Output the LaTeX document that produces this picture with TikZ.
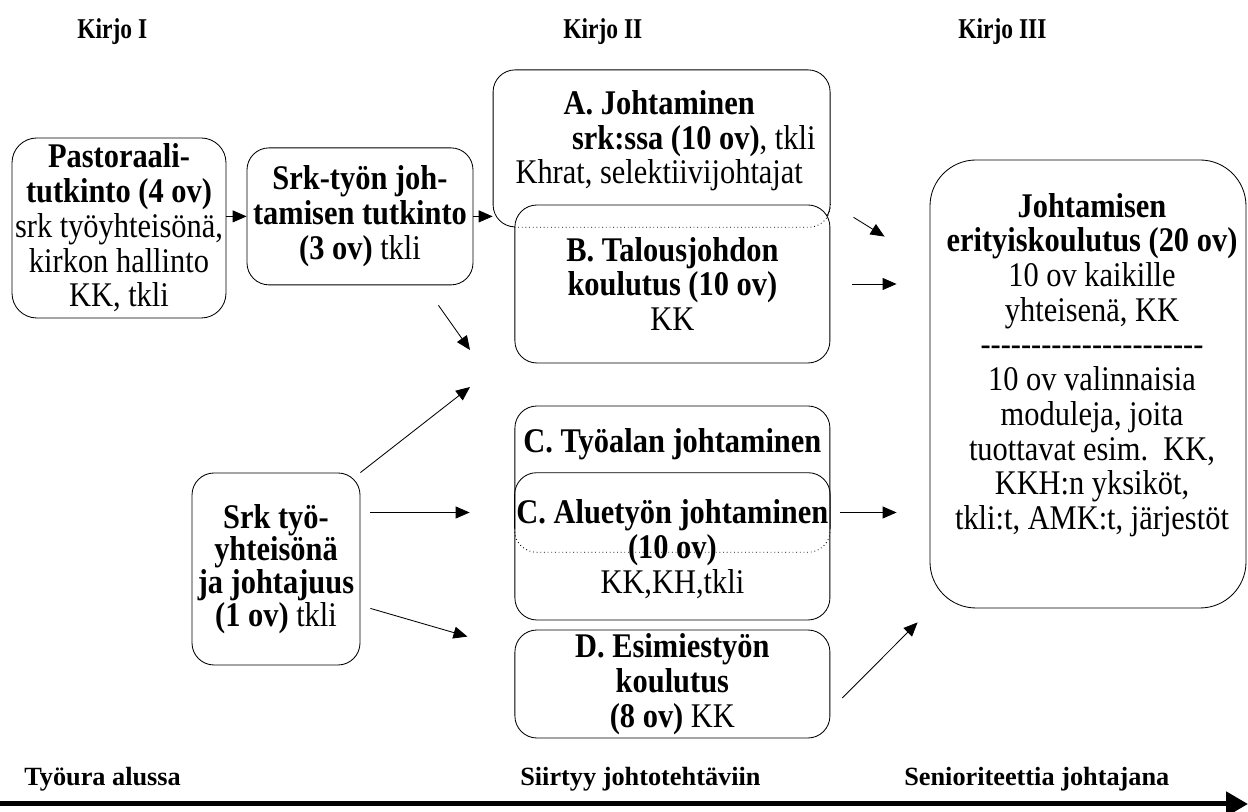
\documentclass[tikz,border=0pt]{standalone}
\usepackage{fontspec}
\setmainfont{Liberation Serif}
\newfontfamily\boxfont[FakeStretch=0.88]{Liberation Serif}
\newfontfamily\kirjofont[FakeStretch=0.82]{Liberation Serif}
\usepackage{tikz}
\usetikzlibrary{arrows.meta}
\tikzset{>={Triangle[length=0.35cm,width=0.3cm]}}
\tikzset{
	box/.style={draw, line width=0.6pt, rounded corners=0.55cm, inner sep=0pt, align=center, font=\boxfont\fontsize{24.6}{24.7}\selectfont},
	boxtext/.style={inner sep=0pt, align=center, font=\boxfont\fontsize{24.6}{24.7}\selectfont},
	kirjo/.style={anchor=base west, inner sep=0pt, font=\kirjofont\bfseries\fontsize{20.4}{24}\selectfont},
	vaihe/.style={anchor=base west, inner sep=0pt, font=\bfseries\fontsize{18.7}{22}\selectfont},
	nuoli/.style={->, line width=0.6pt},
}
\newcommand{\viiva}{\mbox{-}}% one hyphen, no ligature

\begin{document}
\begin{tikzpicture}
	\useasboundingbox (0,0) rectangle (31.2,20.3);
	% otsikot
	\node[kirjo] (kirjoI) at (1.925,19.325) {Kirjo I};
	\node[kirjo] (kirjoII) at (14.075,19.325) {Kirjo II};
	\node[kirjo] (kirjoIII) at (23.95,19.325) {Kirjo III};

	% kirjo I
	\node[box, rounded corners=0.62cm, minimum width=5.35cm, minimum height=4.5cm] (pastoraali) at (2.975,14.6)
		{\textbf{Pastoraali-}\\\textbf{tutkinto (4 ov)}\\srk työyhteisönä,\\kirkon hallinto\\KK, tkli};
	\node[box, minimum width=5.65cm, minimum height=3.425cm] (srktyo) at (9.0,14.89)
		{\textbf{Srk-työn joh-}\\\textbf{tamisen tutkinto}\\\textbf{(3 ov)} tkli};
	\node[box, font=\boxfont\fontsize{24.6}{22}\selectfont, minimum width=4.2cm, minimum height=4.8cm] (yhteiso) at (6.9,6.075)
		{\textbf{Srk työ-}\\\textbf{yhteisönä}\\\textbf{ja johtajuus}\\\textbf{(1 ov)} tkli};

	% kirjo II
	\node[box, minimum width=8.425cm, minimum height=3.925cm] (johtA) at (16.54,16.59) {};
	\node[boxtext] (johtAtxt) at (16.48,16.78)
		{\textbf{A. Johtaminen}\\\hspace*{2em}\textbf{srk:ssa (10 ov)}, tkli\\Khrat, selektiivijohtajat};
	\node[box, fill=white, minimum width=7.875cm, minimum height=3.95cm] (talousB) at (16.81,13.2)
		{\textbf{B. Talousjohdon}\\\textbf{koulutus (10 ov)}\\KK};
	\draw[dotted, line width=0.6pt, rounded corners=0.55cm] (talousB.west |- johtA.south) -- (johtA.south east) -- ([yshift=0.6cm]johtA.south east);

	\node[box, minimum width=7.875cm, minimum height=5.35cm] (tyoalaC) at (16.81,7.475) {};
	\node[boxtext, anchor=base] (tyoalaCtxt) at (16.81,8.975) {\textbf{C. Työalan johtaminen}};
	\node[inner sep=0pt, minimum width=7.875cm, minimum height=1.975cm] (alueC) at (16.81,7.4875) {};
	\draw[line width=0.6pt, rounded corners=0.55cm] ([yshift=0.6cm]alueC.south west) -- (alueC.north west) -- (alueC.north east) -- ([yshift=0.6cm]alueC.south east);
	\draw[dotted, line width=0.6pt, rounded corners=0.55cm] ([yshift=0.6cm]alueC.south west) -- (alueC.south west) -- (alueC.south east) -- ([yshift=0.6cm]alueC.south east);
	\node[boxtext] (alueCtxt) at (16.81,6.575)
		{\textbf{C. Aluetyön johtaminen}\\\textbf{(10 ov)}\\KK,KH,tkli};

	\node[box, minimum width=7.875cm, minimum height=2.7cm] (esimiesD) at (16.81,3.2)
		{\textbf{D. Esimiestyön}\\\textbf{koulutus}\\\textbf{(8 ov)} KK};

	% kirjo III
	\node[box, rounded corners=1.15cm, minimum width=7.9cm, minimum height=11.2cm] (erityis) at (27.2,10.7) {};
	\node[boxtext] (erityistxt) at (27.3,11.175)
		{\textbf{Johtamisen}\\\textbf{erityiskoulutus (20 ov)}\\10 ov kaikille\\yhteisenä, KK\\
		\viiva\viiva\viiva\viiva\viiva\viiva\viiva\viiva\viiva\viiva\viiva\viiva\viiva\viiva\viiva\viiva\viiva\viiva\viiva\viiva\viiva\viiva\\
		10 ov valinnaisia\\moduleja, joita\\tuottavat esim.\ \ KK,\\KKH:n yksiköt,\\tkli:t, AMK:t, järjestöt};

	% nuolet
	\coordinate (vali1) at (11.75,11.55);
	\coordinate (vali2) at (11.75,10.625);
	\draw[nuoli] (pastoraali.east |- srktyo.west) -- (srktyo.west);
	\draw[nuoli] (srktyo.east) -- (srktyo.east -| johtA.west);
	\draw[nuoli] ([xshift=-0.875cm,yshift=-0.5cm]srktyo.south east) -- (vali1);
	\draw[nuoli] (yhteiso.north east) -- (vali2);
	\draw[nuoli] ([xshift=0.25cm]yhteiso.east |- alueC.west) -- ([xshift=-1.125cm]alueC.west);
	\draw[nuoli] ([xshift=0.25cm,yshift=1.425cm]yhteiso.south east) -- ([xshift=-1.175cm,yshift=-0.175cm]esimiesD.north west);

	\draw[nuoli] ([xshift=0.575cm,yshift=0.25cm]johtA.south east) -- ([xshift=-1.125cm,yshift=-1.925cm]erityis.north west);
	\draw[nuoli] ([xshift=0.55cm]talousB.east) -- ([xshift=-0.825cm]erityis.west |- talousB.east);
	\draw[nuoli] ([xshift=0.25cm]alueC.east) -- ([xshift=-0.825cm]erityis.west |- alueC.east);
	\draw[nuoli] ([xshift=0.3cm,yshift=-0.35cm]esimiesD.east) -- ([xshift=-0.3cm,yshift=-0.35cm]erityis.south west);

	% aika-akseli
	\node[vaihe] (alussa) at (0.6,0.65) {Työura alussa};
	\node[vaihe] (siirtyy) at (13.0,0.65) {Siirtyy johtotehtäviin};
	\node[vaihe] (seniori) at (22.6,0.65) {Senioriteettia johtajana};
	\coordinate (uraAlku) at (0,0.2);
	\coordinate (uraLoppu) at (31.2,0.2);
	\draw[line width=0.125cm, -{Triangle[length=0.55cm,width=0.6cm]}] (uraAlku) -- (uraLoppu);
\end{tikzpicture}
\end{document}
